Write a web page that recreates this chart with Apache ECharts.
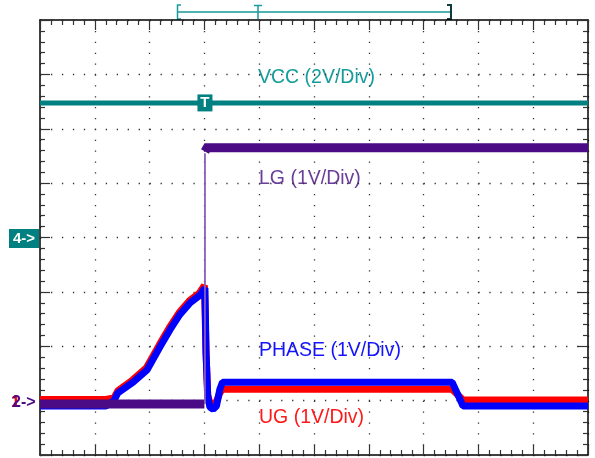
<!DOCTYPE html>
<html>
<head>
<meta charset="utf-8">
<script src="https://cdn.jsdelivr.net/npm/echarts@6/dist/echarts.min.js"></script>
<style>
html,body{margin:0;padding:0;background:#fff;}
#chart{width:595px;height:458px;}
</style>
</head>
<body>
<div id="chart"></div>
<script>
// x in screen divisions (10 div), channel voltages
const vccT = [0, 10];
const vccV = [4.95, 4.95];

const ugT = [0, 1.2, 1.35, 1.42, 1.69, 1.94, 2.18, 2.36, 2.54, 2.73, 2.91, 3.0, 3.03, 3.06, 3.1, 3.16, 3.22, 3.28, 3.33, 7.52, 7.72, 10];
const ugV = [0.02, 0.02, 0.05, 0.18, 0.38, 0.6, 1.03, 1.34, 1.62, 1.84, 1.98, 2.12, 0.9, 0.1, -0.04, -0.06, -0.02, 0.14, 0.21, 0.21, 0.01, 0.01];

const phT = [0, 1.2, 1.35, 1.42, 1.7, 1.95, 2.19, 2.37, 2.55, 2.74, 2.92, 3.01, 3.03, 3.06, 3.1, 3.16, 3.22, 3.28, 3.33, 7.52, 7.72, 10];
const phV = [-0.1, -0.1, 0.0, 0.14, 0.34, 0.56, 0.99, 1.3, 1.58, 1.8, 1.94, 2.07, 0.88, 0.1, -0.12, -0.16, -0.1, 0.2, 0.34, 0.34, -0.1, -0.1];

const lgLowT = [0, 3.0];
const lgLowV = [-0.06, -0.06];
const lgStepT = [3.01, 3.01];
const lgStepV = [-0.06, 4.55];
const lgHighT = [3.01, 3.05, 10];
const lgHighV = [4.58, 4.65, 4.65];

const labels = ['VCC (2V/Div)', 'LG (1V/Div)', 'PHASE (1V/Div)', 'UG (1V/Div)'];

function pts(t, v) { return t.map((x, i) => [x, v[i]]); }

const chart = echarts.init(document.getElementById('chart'), null, {renderer: 'canvas'});
const tickStyle = {color: '#333', width: 1.2};
const axisLineStyle = {color: '#000', width: 1.5};
const FONT = '"Liberation Sans", Arial, sans-serif';

const option = {
  animation: false,
  backgroundColor: '#fff',
  grid: {left: 40, top: 20, width: 548, height: 435, show: false},
  xAxis: [
    {type: 'value', min: 0, max: 10, interval: 1, position: 'bottom',
     axisLine: {show: true, onZero: false, lineStyle: axisLineStyle},
     axisTick: {show: true, inside: true, length: 10, lineStyle: tickStyle},
     minorTick: {show: true, splitNumber: 5, length: 5, lineStyle: tickStyle},
     axisLabel: {show: false},
     splitLine: {show: true, lineStyle: {type: [1.3, 9.575], color: '#333', width: 1.3}}},
    {type: 'value', min: 0, max: 10, interval: 1, position: 'top',
     axisLine: {show: true, onZero: false, lineStyle: axisLineStyle},
     axisTick: {show: true, inside: true, length: 10, lineStyle: tickStyle},
     minorTick: {show: true, splitNumber: 5, length: 5, lineStyle: tickStyle},
     axisLabel: {show: false},
     splitLine: {show: false}}
  ],
  yAxis: [
    {type: 'value', min: -1, max: 7, interval: 1, position: 'left',
     axisLine: {show: true, onZero: false, lineStyle: axisLineStyle},
     axisTick: {show: true, inside: true, length: 10, lineStyle: tickStyle},
     minorTick: {show: true, splitNumber: 5, length: 5, lineStyle: tickStyle},
     axisLabel: {show: false},
     splitLine: {show: true, lineStyle: {type: [1.3, 9.66], color: '#333', width: 1.3}}},
    {type: 'value', min: -8, max: 8, interval: 2, position: 'right',
     axisLine: {show: true, onZero: false, lineStyle: axisLineStyle},
     axisTick: {show: true, inside: true, length: 10, lineStyle: tickStyle},
     minorTick: {show: true, splitNumber: 5, length: 5, lineStyle: tickStyle},
     axisLabel: {show: false},
     splitLine: {show: false}}
  ],
  series: [
    {name: 'VCC', type: 'line', xAxisIndex: 0, yAxisIndex: 1, data: pts(vccT, vccV), z: 3,
     showSymbol: false, lineStyle: {color: '#008080', width: 5},
     markPoint: {symbol: 'rect', symbolSize: [15, 17], itemStyle: {color: '#008080'},
       label: {show: true, formatter: 'T', color: '#fff', fontWeight: 'bold', fontSize: 15, fontFamily: 'Liberation Sans'},
       data: [{coord: [3.01, 4.95]}]}},
    {name: 'UG', type: 'line', yAxisIndex: 0, data: pts(ugT, ugV), z: 4,
     showSymbol: false, lineStyle: {color: '#ff0000', width: 7}},
    {name: 'PHASE', type: 'line', yAxisIndex: 0, data: pts(phT, phV), z: 5,
     showSymbol: false, lineStyle: {color: '#0000ff', width: 7}},
    {name: 'LG', type: 'line', yAxisIndex: 0, data: pts(lgLowT, lgLowV), z: 10,
     showSymbol: false, lineStyle: {color: '#4b0a86', width: 9, cap: 'butt'}},
    {name: 'LG step', type: 'line', yAxisIndex: 0, data: pts(lgStepT, lgStepV), z: 10,
     showSymbol: false, lineStyle: {color: '#8a5cc0', width: 1.8}},
    {name: 'LG high', type: 'line', yAxisIndex: 0, data: pts(lgHighT, lgHighV), z: 10,
     showSymbol: false, lineStyle: {color: '#4b0a86', width: 9, cap: 'butt', join: 'miter'}}
  ],
  graphic: [
    {type: 'text', left: 258, top: 68, style: {text: labels[0], fill: '#159c9c', font: '19.5px ' + FONT}},
    {type: 'text', left: 259, top: 169, style: {text: labels[1], fill: '#6a3d9a', font: '19.5px ' + FONT}},
    {type: 'text', left: 259, top: 341, style: {text: labels[2], fill: '#1414ff', font: '19.5px ' + FONT}},
    {type: 'text', left: 259, top: 408, style: {text: labels[3], fill: '#ff1a1a', font: '19.5px ' + FONT}},
    // channel markers
    {type: 'rect', shape: {x: 9, y: 229, width: 30, height: 19}, style: {fill: '#008080'}},
    {type: 'text', x: 24, y: 238.5, style: {text: '4->', fill: '#fff', font: 'bold 15px ' + FONT, align: 'center', verticalAlign: 'middle'}},
    {type: 'text', x: 11, y: 403, style: {text: '1', fill: '#ff0000', font: 'bold 16px ' + FONT, verticalAlign: 'middle'}},
    {type: 'text', x: 12, y: 403, style: {text: '2->', fill: '#4b0a86', font: 'bold 16px ' + FONT, verticalAlign: 'middle'}},
    // top memory bracket
    {type: 'line', shape: {x1: 177, y1: 12, x2: 451, y2: 12}, style: {stroke: '#1a9a9a', lineWidth: 1.5}},
    {type: 'polyline', shape: {points: [[181, 5], [177.5, 5], [177.5, 19], [181, 19]]}, style: {stroke: '#1a9a9a', lineWidth: 1.5, fill: null}},
    {type: 'line', shape: {x1: 258, y1: 5, x2: 258, y2: 19}, style: {stroke: '#1a9a9a', lineWidth: 1.5}},
    {type: 'line', shape: {x1: 254, y1: 5.5, x2: 262, y2: 5.5}, style: {stroke: '#1a9a9a', lineWidth: 1.5}},
    {type: 'polyline', shape: {points: [[447, 5], [451, 5], [451, 19], [447, 19]]}, style: {stroke: '#0d3d3d', lineWidth: 2, fill: null}}
  ]
};
chart.setOption(option);
</script>
</body>
</html>
